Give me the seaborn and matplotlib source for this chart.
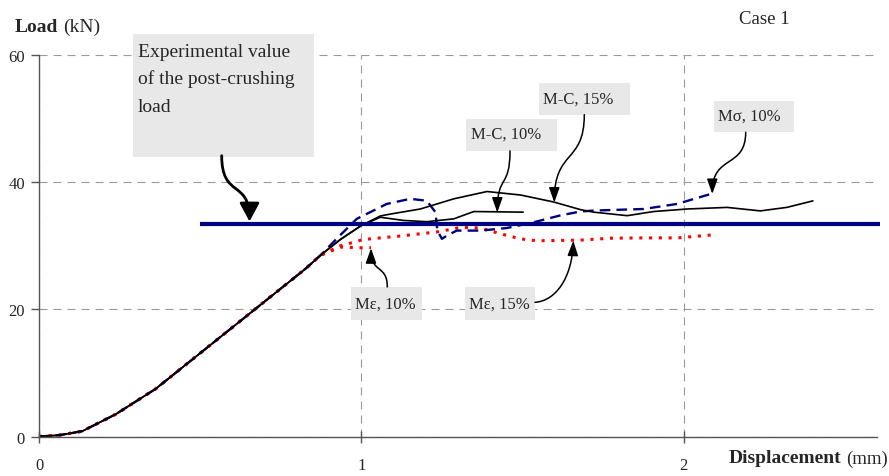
import numpy as np
import pandas as pd
import seaborn as sns
import matplotlib
matplotlib.use("Agg")
import matplotlib.pyplot as plt
from matplotlib.patches import Rectangle, FancyArrowPatch
from matplotlib.path import Path
from matplotlib.transforms import Affine2D

# ---------------- data ----------------
rise_x = [0.0, 0.062, 0.134, 0.238, 0.362, 0.517, 0.672, 0.827, 0.873]
rise_y = [0.0, 0.2, 0.83, 3.5, 7.5, 13.8, 20.1, 26.4, 28.5]

mc15_x = [0.935, 1.0, 1.059, 1.09, 1.183, 1.287, 1.39, 1.494, 1.597, 1.68,
          1.721, 1.825, 1.907, 2.011, 2.135, 2.238, 2.32, 2.403]
mc15_y = [31.0, 33.2, 34.7, 35.0, 35.8, 37.4, 38.55, 38.0, 36.9, 35.7,
          35.3, 34.75, 35.4, 35.8, 36.05, 35.5, 36.05, 37.1]

mc10_x = [0.935, 1.0, 1.059, 1.131, 1.203, 1.287, 1.349, 1.504]
mc10_y = [31.0, 33.2, 34.5, 34.0, 33.8, 34.25, 35.4, 35.3]

msig10_x = [0.933, 0.986, 1.079, 1.152, 1.203, 1.23, 1.236, 1.25, 1.265, 1.296,
            1.37, 1.451, 1.534, 1.618, 1.68, 1.72, 1.876, 1.98, 2.093]
msig10_y = [31.6, 34.25, 36.6, 37.4, 37.1, 35.3, 32.4, 31.1, 31.6, 32.4,
            32.4, 32.8, 33.7, 34.8, 35.4, 35.55, 35.8, 36.6, 38.3]

meps10_x = [0.935, 1.0, 1.03]
meps10_y = [29.8, 29.7, 29.7]

meps15_x = [0.935, 1.007, 1.131, 1.236, 1.308, 1.37, 1.432, 1.494, 1.545,
            1.68, 1.773, 1.876, 1.98, 2.084]
meps15_y = [30.0, 31.0, 31.6, 32.2, 32.9, 32.8, 31.9, 31.1, 30.8,
            30.9, 31.2, 31.25, 31.25, 31.7]

exp_load = 33.4
exp_x = [0.5, 2.61]

x_ticks = [0, 1, 2]
y_ticks = [0, 20, 40, 60]

# ---------------- style ----------------
sns.set_theme(style="white")
plt.rcParams["font.family"] = ["Liberation Serif", "DejaVu Serif"]

W, H = 889, 477
fig = plt.figure(figsize=(W / 100, H / 100), dpi=100)
ax = fig.add_axes([39 / W, 1 - 437.5 / H, 838 / W, 381.3 / H])

# transform for reference-pixel coordinates (origin top-left)
pix = Affine2D().scale(1 / W, -1 / H).translate(0, 1) + fig.transFigure


def series(tail_x, tail_y):
    return pd.DataFrame({"x": rise_x + tail_x, "y": rise_y + tail_y})


common = dict(ax=ax, x="x", y="y", sort=False, estimator=None, legend=False)

sns.lineplot(data=series(meps10_x, meps10_y), color="#ff0000", lw=2.2,
             linestyle=(0, (1, 2.2)), **common)
sns.lineplot(data=series(meps15_x, meps15_y), color="#ff0000", lw=2.2,
             linestyle=(0, (1, 2.2)), **common)
sns.lineplot(data=series(msig10_x, msig10_y), color="#000080", lw=1.7,
             linestyle=(0, (4.5, 2.6)), **common)
sns.lineplot(data=series(mc10_x, mc10_y), color="black", lw=1.2, **common)
sns.lineplot(data=series(mc15_x, mc15_y), color="black", lw=1.2, **common)

exp_df = pd.DataFrame({"x": exp_x, "y": [exp_load] * len(exp_x)})
sns.lineplot(data=exp_df, color="#000080", lw=3.0, zorder=5, **common)
for ln in ax.lines:
    ln.set_clip_on(False)
    ln.set_solid_capstyle("butt")

ax.set_xlim(0, 2.6)
ax.set_ylim(0, 60)
ax.set_xticks(x_ticks)
ax.set_yticks(y_ticks)
ax.set_xticklabels([str(v) for v in x_ticks])
ax.set_yticklabels([str(v) for v in y_ticks])
ax.set_xlabel("")
ax.set_ylabel("")

ax.grid(True, color="#9a9a9a", lw=0.8, linestyle=(0, (7.2, 5.4)))
ax.set_axisbelow(True)
for s in ["top", "right"]:
    ax.spines[s].set_visible(False)
for s in ["left", "bottom"]:
    ax.spines[s].set_color("#555555")
    ax.spines[s].set_linewidth(1.0)

ax.tick_params(axis="y", direction="out", length=6, width=1, color="#555555",
               labelsize=12, pad=4, left=True)
ax.tick_params(axis="x", direction="inout", length=9, width=1, color="#555555",
               labelsize=12, pad=10, bottom=True)

# ---------------- axis titles ----------------
ax.text(15, 32.3, "Load", transform=pix, fontsize=14, fontweight="bold",
        ha="left", va="baseline", clip_on=False)
ax.text(63, 32.3, "(kN)", transform=pix, fontsize=14,
        ha="left", va="baseline", clip_on=False)
ax.text(841, 463.5, "Displacement", transform=pix, fontsize=14,
        fontweight="bold", ha="right", va="baseline", clip_on=False)
ax.text(846, 463.5, "(mm)", transform=pix, fontsize=13.5,
        ha="left", va="baseline", clip_on=False)
ax.text(764, 24, "Case 1", transform=pix, fontsize=13.5,
        ha="center", va="baseline", clip_on=False)

# ---------------- annotation boxes ----------------
box_fc = "#e8e8e8"


def box(x0, y0, x1, y1):
    ax.add_patch(Rectangle((x0, y0), x1 - x0, y1 - y0, transform=pix,
                           fc=box_fc, ec="none", zorder=1, clip_on=False))


box(132.5, 35, 314, 158.3)
for i, line in enumerate(["Experimental value", "of the post-crushing", "load"]):
    ax.text(138, 57 + 27.5 * i, line, transform=pix, fontsize=14,
            ha="left", va="baseline", zorder=6, clip_on=False)

labels = [
    ("M-C, 15%", (539, 84, 630, 115.7), (543.3, 103.3)),
    ("M-C, 10%", (466, 120, 557, 151.7), (470.7, 138.3)),
    ("M\u03c3, 10%", (714.3, 101.7, 794, 133.3), (718.3, 120.7)),
    ("M\u03b5, 10%", (350.7, 288, 421.7, 321), (355, 308.3)),
    ("M\u03b5, 15%", (465, 288, 535, 321), (469.3, 308.3)),
]
for txt, (bx0, by0, bx1, by1), (tx, ty) in labels:
    box(bx0, by0, bx1, by1)
    ax.text(tx, ty, txt, transform=pix, fontsize=12, ha="left",
            va="baseline", zorder=6, clip_on=False)

# ---------------- curved arrows ----------------
def arrow(p0, c1, c2, p3, lw, ms, hl, hw):
    path = Path([p0, c1, c2, p3],
                [Path.MOVETO, Path.CURVE4, Path.CURVE4, Path.CURVE4])
    a = FancyArrowPatch(path=path, transform=pix,
                        arrowstyle=f"-|>,head_length={hl},head_width={hw}",
                        mutation_scale=ms, color="black", lw=lw,
                        zorder=7, clip_on=False)
    ax.add_patch(a)


arrow((221.7, 156.7), (221.7, 200), (249.5, 180), (249.5, 222.5), 2.0, 20, 0.56, 0.3)
arrow((510, 152), (510, 190), (497.3, 175), (497.3, 213.5), 1.1, 10, 0.9, 0.32)
arrow((584.3, 115.7), (584.3, 165), (554.3, 150), (554.3, 203.5), 1.1, 10, 0.9, 0.32)
arrow((745.7, 133.3), (745.7, 170), (712.3, 155), (712.3, 195), 1.1, 10, 0.9, 0.32)
arrow((387.3, 288), (387.3, 265), (371, 275), (371, 249.3), 1.1, 10, 0.9, 0.32)
arrow((535, 303.3), (555, 302), (572, 280), (573.3, 241.7), 1.1, 10, 0.9, 0.32)

fig.savefig("out.png", dpi=100)
